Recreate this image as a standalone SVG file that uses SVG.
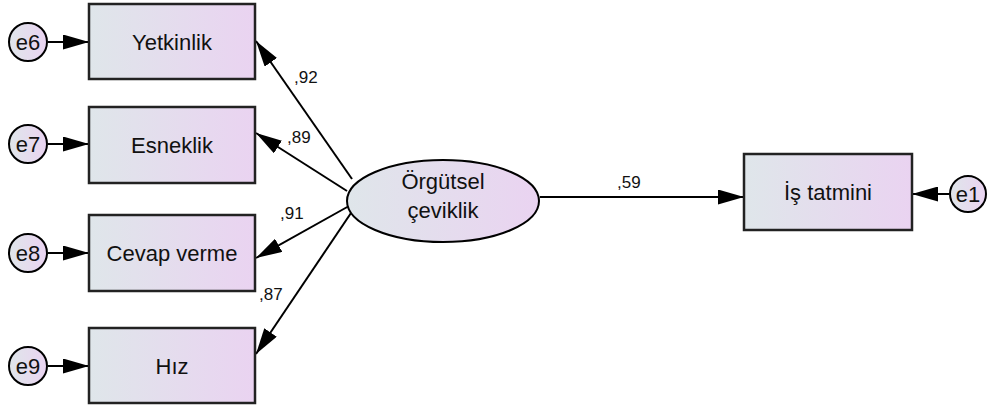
<svg xmlns="http://www.w3.org/2000/svg" width="988" height="410" viewBox="0 0 988 410">
<defs>
<linearGradient id="g" x1="0" y1="0" x2="1" y2="0">
<stop offset="0" stop-color="#dfe6ea"/>
<stop offset="1" stop-color="#ead3f1"/>
</linearGradient>
<marker id="ah" viewBox="0 0 10 10" refX="10" refY="5" markerWidth="26" markerHeight="15" markerUnits="userSpaceOnUse" orient="auto" preserveAspectRatio="none">
<path d="M0,0 L10,5 L0,10 Z" fill="#000"/>
</marker>
<style>
.box{fill:url(#g);stroke:#222;stroke-width:2.5}
.ell{fill:url(#g);stroke:#000;stroke-width:2}
.t{font-family:"Liberation Sans",Arial,sans-serif;font-size:22px;fill:#111;text-anchor:middle}
.et{font-family:"Liberation Sans",Arial,sans-serif;font-size:22px;fill:#111;text-anchor:middle}
.lb{font-family:"Liberation Sans",Arial,sans-serif;font-size:17px;fill:#111}
.c{stroke:#000;stroke-width:2;fill:none;marker-end:url(#ah)}
</style>
</defs>
<g id="connectors">
<line class="c" x1="48" y1="42" x2="89" y2="42"/>
<line class="c" x1="48" y1="144" x2="89" y2="144"/>
<line class="c" x1="48" y1="253" x2="89" y2="253"/>
<line class="c" x1="48" y1="366" x2="89" y2="366"/>
<line class="c" x1="949" y1="194" x2="912" y2="194"/>
<line class="c" x1="352" y1="179" x2="256" y2="41"/>
<line class="c" x1="347" y1="191" x2="256" y2="133"/>
<line class="c" x1="349" y1="206" x2="256" y2="258"/>
<line class="c" x1="351" y1="213" x2="256" y2="354"/>
<line class="c" x1="540" y1="197" x2="744" y2="197"/>
<text class="lb" x="294" y="83">,92</text>
<text class="lb" x="287" y="143">,89</text>
<text class="lb" x="280" y="219">,91</text>
<text class="lb" x="259" y="300">,87</text>
<text class="lb" x="617" y="188">,59</text>
</g>
<g id="Yetkinlik"><rect class="box" x="89" y="4" width="166" height="75"/><text class="t" x="172" y="50">Yetkinlik</text></g>
<g id="Esneklik"><rect class="box" x="89" y="107" width="166" height="76"/><text class="t" x="172" y="153">Esneklik</text></g>
<g id="CevapVerme"><rect class="box" x="89" y="215" width="166" height="76"/><text class="t" x="172" y="261">Cevap verme</text></g>
<g id="Hiz"><rect class="box" x="89" y="328" width="166" height="75"/><text class="t" x="172" y="374">Hız</text></g>
<g id="IsTatmini"><rect class="box" x="744" y="154" width="168" height="76"/><text class="t" x="828" y="200">İş tatmini</text></g>
<g id="OrgutselCeviklik"><ellipse class="ell" cx="443" cy="201" rx="96" ry="41"/><text class="et" x="443" y="189">Örgütsel</text><text class="et" x="443" y="218">çeviklik</text></g>
<g id="e6"><circle class="ell" cx="28" cy="42" r="19"/><text class="et" x="28" y="50">e6</text></g>
<g id="e7"><circle class="ell" cx="28" cy="144" r="19"/><text class="et" x="28" y="152">e7</text></g>
<g id="e8"><circle class="ell" cx="28" cy="253" r="19"/><text class="et" x="28" y="261">e8</text></g>
<g id="e9"><circle class="ell" cx="28" cy="366" r="19"/><text class="et" x="28" y="374">e9</text></g>
<g id="e1"><circle class="ell" cx="968" cy="194" r="18"/><text class="et" x="968" y="202">e1</text></g>
</svg>
